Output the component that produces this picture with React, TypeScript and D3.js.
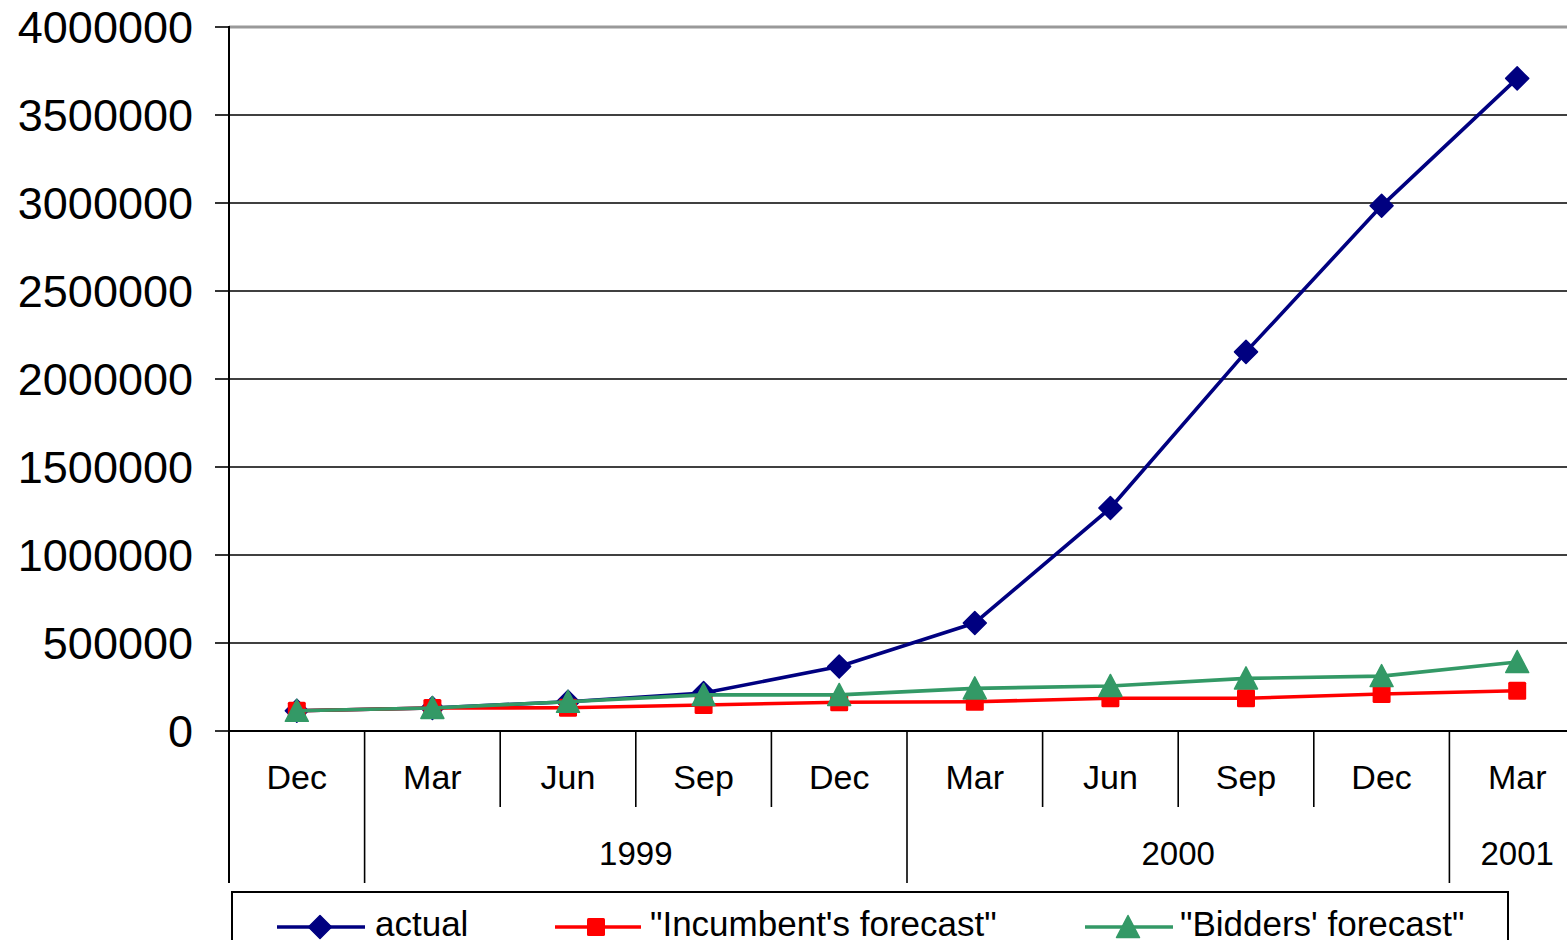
import React from "react";
import * as d3 from "d3";

const months = ["Dec", "Mar", "Jun", "Sep", "Dec", "Mar", "Jun", "Sep", "Dec", "Mar"];
const years = [
  { label: "", start: 0, end: 0 },
  { label: "1999", start: 1, end: 4 },
  { label: "2000", start: 5, end: 8 },
  { label: "2001", start: 9, end: 9 },
];
const actual = [115000, 131000, 166000, 216000, 366000, 614000, 1267000, 2154000, 2984000, 3708000];
const incumbent = [115000, 131000, 132000, 148000, 163000, 166000, 186000, 186000, 210000, 229000];
const bidders = [115000, 131000, 166000, 205000, 205000, 242000, 256000, 299000, 312000, 392000];
const yTicks = [0, 500000, 1000000, 1500000, 2000000, 2500000, 3000000, 3500000, 4000000];

const series = [
  { name: "actual", values: actual, color: "#000080", marker: "diamond" },
  { name: "\"Incumbent's forecast\"", values: incumbent, color: "#FF0000", marker: "square" },
  { name: "\"Bidders' forecast\"", values: bidders, color: "#339966", marker: "triangle" },
];

const W = 1567;
const H = 940;
const left = 229;
const bandW = 135.6;
const top = 27;
const bottom = 731;
const font = "'Liberation Sans', Arial, sans-serif";

function Marker({ type, x, y, color }: { type: string; x: number; y: number; color: string }) {
  if (type === "diamond") {
    const s = 11.5;
    return <path d={`M${x},${y - s}L${x + s},${y}L${x},${y + s}L${x - s},${y}Z`} fill={color} stroke={color} strokeWidth={1.5} strokeLinejoin="round" />;
  }
  if (type === "square") {
    const s = 9;
    return <rect x={x - s} y={y - s} width={2 * s} height={2 * s} rx={1.5} fill={color} />;
  }
  const s = 11.5;
  return <path d={`M${x},${y - s}L${x + s},${y + s - 1}L${x - s},${y + s - 1}Z`} fill={color} stroke={color} strokeWidth={1.5} strokeLinejoin="round" />;
}

export default function App() {
  const x = d3.scaleBand<number>().domain(d3.range(months.length)).range([left, left + bandW * months.length]);
  const y = d3.scaleLinear().domain([0, 4000000]).range([bottom, top]);
  const cx = (i: number) => (x(i) as number) + x.bandwidth() / 2;
  const line = d3.line<number>().x((_, i) => cx(i)).y((d) => y(d));

  const yearBoundaries = new Set<number>();
  years.forEach((g) => yearBoundaries.add(g.start));

  const legendItems = [
    { s: series[0], lx1: 277, lx2: 365, mx: 320, tx: 375 },
    { s: series[1], lx1: 555, lx2: 641, mx: 596, tx: 650 },
    { s: series[2], lx1: 1085, lx2: 1173, mx: 1128, tx: 1180 },
  ];
  const ly = 924;

  return (
    <svg width={W} height={H} style={{ position: "absolute", left: 0, top: 0, background: "#fff" }} fontFamily={font}>
      <rect x={0} y={0} width={W} height={H} fill="#fff" />
      {yTicks.slice(1, -1).map((t) => (
        <line key={t} x1={left} x2={W} y1={y(t)} y2={y(t)} stroke="#000" strokeWidth={1.6} />
      ))}
      <line x1={left} x2={W} y1={y(4000000)} y2={y(4000000)} stroke="#999" strokeWidth={3} />
      {yTicks.map((t) => (
        <g key={"yt" + t}>
          <line x1={215} x2={left} y1={y(t)} y2={y(t)} stroke="#000" strokeWidth={1.6} />
          <text x={193} y={y(t)} dy="0.35em" textAnchor="end" fontSize={45} fill="#000">
            {String(t)}
          </text>
        </g>
      ))}
      <line x1={left} x2={left} y1={top - 1} y2={883} stroke="#000" strokeWidth={2} />
      <line x1={left} x2={W} y1={bottom} y2={bottom} stroke="#000" strokeWidth={2.2} />
      {months.map((_, i) =>
        i === 0 ? null : (
          <line
            key={"sep" + i}
            x1={x(i) as number}
            x2={x(i) as number}
            y1={bottom}
            y2={yearBoundaries.has(i) ? 883 : 807}
            stroke="#000"
            strokeWidth={1.6}
          />
        )
      )}
      {months.map((m, i) => (
        <text key={"m" + i} x={cx(i)} y={777} dy="0.35em" textAnchor="middle" fontSize={34} fill="#000">
          {m}
        </text>
      ))}
      {years.filter((g) => g.label).map((g) => {
        const x0 = x(g.start) as number;
        const x1 = (x(g.end) as number) + x.bandwidth();
        return (
          <text key={g.label} x={(x0 + x1) / 2} y={853} dy="0.35em" textAnchor="middle" fontSize={33} fill="#000">
            {g.label}
          </text>
        );
      })}
      {series.map((s) => (
        <g key={s.name}>
          <path d={line(s.values) as string} fill="none" stroke={s.color} strokeWidth={3.6} strokeLinejoin="round" />
          {s.values.map((v, i) => (
            <Marker key={i} type={s.marker} x={cx(i)} y={y(v)} color={s.color} />
          ))}
        </g>
      ))}
      <rect x={232} y={892} width={1276} height={80} fill="#fff" stroke="#000" strokeWidth={2} />
      {legendItems.map((it) => (
        <g key={it.s.name}>
          <line x1={it.lx1} x2={it.lx2} y1={ly + 3} y2={ly + 3} stroke={it.s.color} strokeWidth={3.6} />
          <Marker type={it.s.marker} x={it.mx} y={ly + 3} color={it.s.color} />
          <text x={it.tx} y={ly} dy="0.35em" fontSize={35} fill="#000">
            {it.s.name}
          </text>
        </g>
      ))}
    </svg>
  );
}
